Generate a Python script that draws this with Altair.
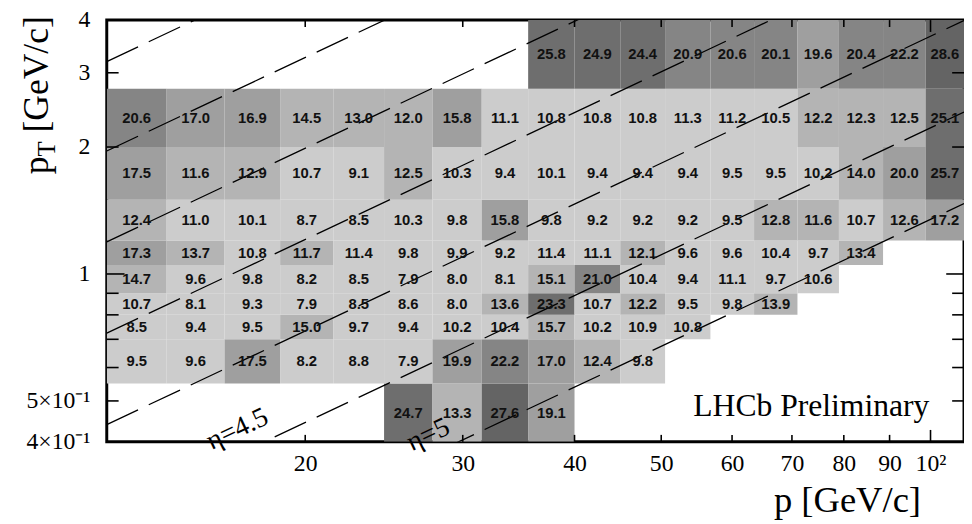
import altair as alt
import pandas as pd
import numpy as np

# ---- binning ----
p_edges = [12.0, 14.0, 16.25, 18.75, 21.5, 24.5, 27.75, 31.5, 35.5, 40.0,
           45.0, 50.5, 56.75, 63.5, 71.0, 79.0, 88.5, 98.75, 109.0]
pt_edges = [0.4, 0.55, 0.7, 0.8, 0.9, 1.05, 1.2, 1.5, 2.0, 2.75, 4.0]

# rows from bottom (pT bins); index of first filled p-bin, then the values
row_first_col = [5, 0, 0, 0, 0, 0, 0, 0, 0, 8]
row_values = [
    [24.7, 13.3, 27.6, 19.1],
    [9.5, 9.6, 17.5, 8.2, 8.8, 7.9, 19.9, 22.2, 17.0, 12.4, 9.8],
    [8.5, 9.4, 9.5, 15.0, 9.7, 9.4, 10.2, 10.4, 15.7, 10.2, 10.9, 10.8],
    [10.7, 8.1, 9.3, 7.9, 8.5, 8.6, 8.0, 13.6, 23.3, 10.7, 12.2, 9.5, 9.8, 13.9],
    [14.7, 9.6, 9.8, 8.2, 8.5, 7.9, 8.0, 8.1, 15.1, 21.0, 10.4, 9.4, 11.1, 9.7, 10.6],
    [17.3, 13.7, 10.8, 11.7, 11.4, 9.8, 9.9, 9.2, 11.4, 11.1, 12.1, 9.6, 9.6, 10.4, 9.7, 13.4],
    [12.4, 11.0, 10.1, 8.7, 8.5, 10.3, 9.8, 15.8, 9.8, 9.2, 9.2, 9.2, 9.5, 12.8, 11.6, 10.7, 12.6, 17.2],
    [17.5, 11.6, 12.9, 10.7, 9.1, 12.5, 10.3, 9.4, 10.1, 9.4, 9.4, 9.4, 9.5, 9.5, 10.2, 14.0, 20.0, 25.7],
    [20.6, 17.0, 16.9, 14.5, 13.0, 12.0, 15.8, 11.1, 10.8, 10.8, 10.8, 11.3, 11.2, 10.5, 12.2, 12.3, 12.5, 25.1],
    [25.8, 24.9, 24.4, 20.9, 20.6, 20.1, 19.6, 20.4, 22.2, 28.6],
]

eta_values = [2.0, 2.5, 3.0, 3.5, 4.0, 4.5, 5.0]
eta_labels = ["η=4.5", "η=5"]
eta_label_p = [16.8, 27.45]
eta_label_pt = [0.428, 0.415]

x_tick_values = [20, 30, 40, 50, 60, 70, 80, 90, 100]
x_minor_ticks = [20, 30, 40, 50, 60, 70, 80, 90]
x_major_ticks = [100]
y_label_values = [0.4, 0.5, 1, 2, 3, 4]
y_minor_ticks = [0.5, 0.6, 0.7, 0.8, 0.9, 2, 3]
y_major_ticks = [1]

color_levels = [11.5, 15.75, 20.05, 23.0, 26.0]
color_greys = ["#cccccc", "#b4b4b4", "#9f9f9f", "#858585", "#6e6e6e", "#646464"]

W, H = 868, 427
x_domain = [12.0, 109.0]
y_domain = [0.4, 4.0]
SERIF = "Liberation Serif"

# ---- tables ----
cells = []
for r, (first, vals) in enumerate(zip(row_first_col, row_values)):
    for k, v in enumerate(vals):
        c = first + k
        cells.append(dict(
            p_lo=p_edges[c], p_hi=p_edges[c + 1],
            pt_lo=pt_edges[r], pt_hi=pt_edges[r + 1],
            value=v, label=f"{v:.1f}",
            p_c=float(np.sqrt(p_edges[c] * p_edges[c + 1])),
            pt_c=float(np.sqrt(pt_edges[r] * pt_edges[r + 1])),
        ))
cells = pd.DataFrame(cells)

lines = []
for e in eta_values:
    for p in x_domain:
        lines.append(dict(eta=e, p=p, pt=p / np.cosh(e)))
lines = pd.DataFrame(lines)

labels_df = pd.DataFrame(dict(p=eta_label_p, pt=eta_label_pt, t=eta_labels))

xs = alt.Scale(type="log", domain=x_domain)
ys = alt.Scale(type="log", domain=y_domain)

x_axis = alt.Axis(values=x_tick_values, labelExpr="datum.value >= 99 ? '10²' : format(datum.value, '.0f')",
                  ticks=False, tickSize=0, domain=False, grid=False,
                  labelFont=SERIF, labelFontSize=24, labelColor="black",
                  labelBaseline="alphabetic", labelPadding=29, labelFlush=False, labelOverlap=False,
                  title="p [GeV/c]", titleFont=SERIF, titleFontSize=37,
                  titleFontWeight="normal", titleColor="black", titleAlign="right",
                  titleBaseline="alphabetic", titleX=824, titleY=71)
y_axis = alt.Axis(values=y_label_values,
                  labelExpr="datum.value < 0.45 ? '4×10⁻¹' : (datum.value < 0.75 ? '5×10⁻¹' : format(datum.value, '.0f'))",
                  ticks=False, tickSize=0, domain=False, grid=False,
                  labelFont=SERIF, labelFontSize=24, labelColor="black",
                  labelBaseline="middle", labelPadding=17, labelFlush=False, labelOverlap=False,
                  title=None)

rects = alt.Chart(cells).mark_rect(clip=True).encode(
    x=alt.X("p_lo:Q", scale=xs, axis=x_axis),
    x2="p_hi:Q",
    y=alt.Y("pt_lo:Q", scale=ys, axis=y_axis),
    y2="pt_hi:Q",
    color=alt.Color("value:Q", scale=alt.Scale(type="threshold", domain=color_levels, range=color_greys), legend=None),
)

eta_lines = alt.Chart(lines).mark_line(clip=True, color="black", strokeWidth=1.3, strokeDash=[35, 12]).encode(
    x=alt.X("p:Q", scale=xs), y=alt.Y("pt:Q", scale=ys), detail="eta:N", order="p:Q")

texts = alt.Chart(cells).mark_text(font="Liberation Sans", fontWeight="bold", fontSize=15,
                                   color="#111111", align="center", baseline="middle").encode(
    x=alt.X("p_c:Q", scale=xs), y=alt.Y("pt_c:Q", scale=ys), text="label:N")

eta_text = alt.Chart(labels_df).mark_text(font=SERIF, fontSize=28, angle=335,
                                          align="center", baseline="middle", color="black").encode(
    x=alt.X("p:Q", scale=xs), y=alt.Y("pt:Q", scale=ys), text="t:N")

lhcb = alt.Chart(pd.DataFrame(dict(p=[54.3], pt=[0.4597], t=["LHCb Preliminary"]))).mark_text(
    font=SERIF, fontSize=32, align="left", baseline="alphabetic", color="black").encode(
    x=alt.X("p:Q", scale=xs), y=alt.Y("pt:Q", scale=ys), text="t:N")

def xticks(vals, length, top):
    y0, y1 = (0, length) if top else (H, H - length)
    return alt.Chart(pd.DataFrame(dict(p=vals))).mark_rule(color="black", strokeWidth=1.6).encode(
        x=alt.X("p:Q", scale=xs), y=alt.value(y0), y2=alt.value(y1))

def yticks(vals, length, right):
    x0, x1 = (W, W - length) if right else (0, length)
    return alt.Chart(pd.DataFrame(dict(pt=vals))).mark_rule(color="black", strokeWidth=1.6).encode(
        y=alt.Y("pt:Q", scale=ys), x=alt.value(x0), x2=alt.value(x1))

ticks = [xticks(x_minor_ticks, 7, False), xticks(x_major_ticks, 12, False),
         xticks(x_minor_ticks, 7, True), xticks(x_major_ticks, 12, True),
         yticks(y_minor_ticks, 12, False), yticks(y_major_ticks, 18, False),
         yticks(y_minor_ticks, 12, True), yticks(y_major_ticks, 18, True)]

def ytitle(text, size, x, y, align):
    return alt.Chart(pd.DataFrame(dict(t=[text]))).mark_text(
        font=SERIF, fontSize=size, angle=270, align=align, baseline="alphabetic",
        color="black").encode(x=alt.value(x), y=alt.value(y), text="t:N")

ytitles = [ytitle("p", 36, -60, 156, "left"),
           ytitle("T", 25, -52, 138, "left"),
           ytitle("[GeV/c]", 36, -60, -4, "right")]

chart = alt.layer(rects, eta_lines, texts, eta_text, lhcb, *ticks, *ytitles).properties(
    width=W, height=H,
    padding={"left": 100, "top": 9, "right": 0, "bottom": 80},
    autosize=alt.AutoSizeParams(type="none"),
).configure_view(stroke="black", strokeWidth=3)

chart.save("out.html", embed_options={"renderer": "svg", "actions": False})
